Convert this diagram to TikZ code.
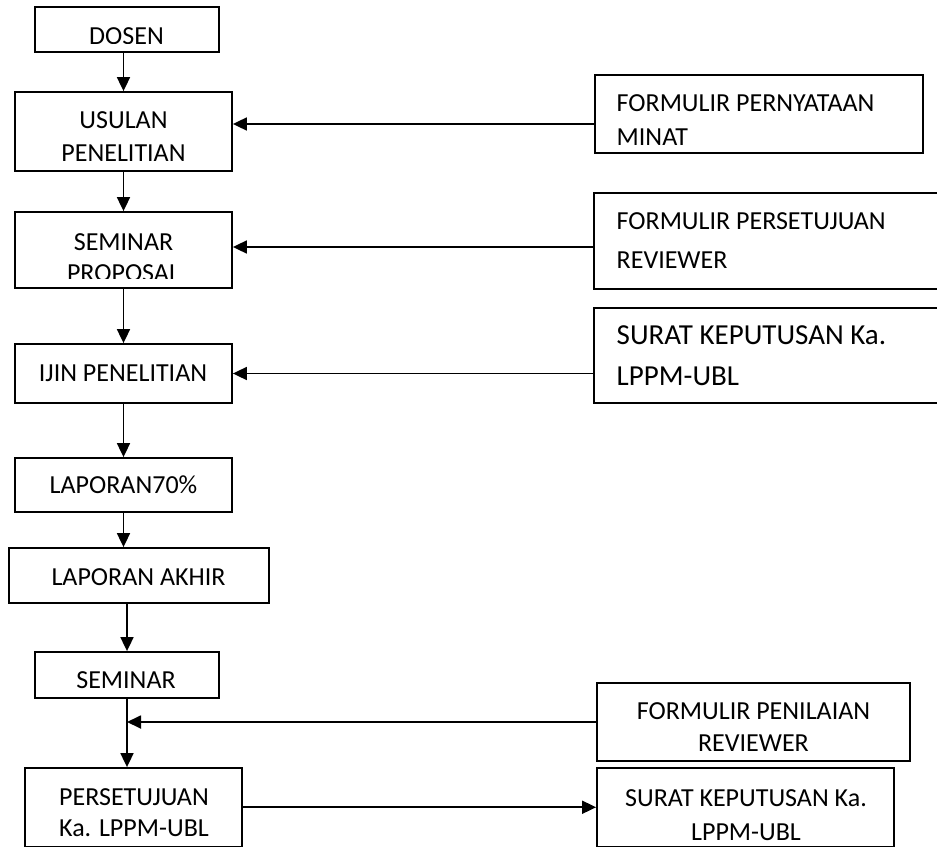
\documentclass[tikz,border=0pt]{standalone}
\usepackage{fontspec}
\setmainfont{Carlito}
\usetikzlibrary{arrows.meta}
\begin{document}
\begin{tikzpicture}[x=1pt,y=-1pt,
  box/.style={draw, line width=1.8pt, inner sep=0pt},
  txt/.style={inner sep=0pt, align=center, font=\fontsize{26}{31}\selectfont},
  lines/.style={font=\fontsize{26}{#1}\selectfont},
  oneline/.style={text height=16.5pt, text depth=0pt},
  arr/.style={line width=1.8pt, -{Triangle[length=14pt,width=13pt]}}]
\useasboundingbox (0,0) rectangle (937,848);

% main flow boxes
\node[box, minimum width=184pt, minimum height=45pt]   (dosen)    at (127,29.5) {};
\node[box, minimum width=217pt, minimum height=79pt]   (usulan)   at (123.5,131.5) {};
\node[box, minimum width=217pt, minimum height=76pt]   (semprop)  at (123.5,250) {};
\node[box, minimum width=217pt, minimum height=59pt]   (ijin)     at (123.5,373.5) {};
\node[box, minimum width=217pt, minimum height=54pt]   (lap70)    at (123.5,485) {};
\node[box, minimum width=260pt, minimum height=55pt]   (lapakhir) at (139,575.5) {};
\node[box, minimum width=184pt, minimum height=46pt]   (seminar)  at (127,675) {};
\node[box, minimum width=217pt, minimum height=78.5pt] (pers)     at (133.5,807.25) {};

% document boxes on the right
\node[box, minimum width=328pt, minimum height=78pt]   (fpm) at (759,114) {};
\node[box, minimum width=346pt, minimum height=96pt]   (fpr) at (767,241) {};
\node[box, minimum width=346pt, minimum height=95pt]   (sk1) at (767,355.5) {};
\node[box, minimum width=313pt, minimum height=78pt]   (fpn) at (753.5,722) {};
\node[box, minimum width=297pt, minimum height=78.5pt] (sk2) at (745.5,807.25) {};

% labels
\begin{scope}
  \clip (0,0) rectangle (937,43.5);
  \node[txt, oneline] (dosen-t) at (126.5,36.5) {DOSEN};
\end{scope}
\node[txt, lines=33.5] (usulan-t) at (123.5,136.75) {USULAN\\PENELITIAN};
\begin{scope}
  \clip (0,200) rectangle (937,278.5);
  \node[txt, lines=31.5] (semprop-t) at (123.5,257.75) {SEMINAR\\PROPOSAL};
\end{scope}
\node[txt, oneline] (ijin-t)     at (123,373)     {IJIN PENELITIAN};
\node[txt, oneline] (lap70-t)    at (123.5,485.5) {LAPORAN70\%};
\node[txt, oneline] (lapakhir-t) at (138.5,577)   {LAPORAN AKHIR};
\node[txt, oneline] (seminar-t)  at (126,680.5)   {SEMINAR};
\node[txt, lines=31] (pers-t)    at (134,813)     {PERSETUJUAN\\Ka. LPPM-UBL};

\node[txt, lines=34, align=left, anchor=west]   (fpm-t) at (616.5,120.5)  {FORMULIR PERNYATAAN\\MINAT};
\node[txt, lines=38.5, align=left, anchor=west] (fpr-t) at (616.5,240.75) {FORMULIR PERSETUJUAN\\REVIEWER};
\node[txt, font=\fontsize{29}{41}\selectfont, align=left, anchor=west] (sk1-t) at (616.5,355.5) {SURAT KEPUTUSAN Ka.\\LPPM-UBL};
\node[txt, lines=32]   (fpn-t) at (753.5,727.5) {FORMULIR PENILAIAN\\REVIEWER};
\node[txt, lines=33.4] (sk2-t) at (746,815)     {SURAT KEPUTUSAN Ka.\\LPPM-UBL};

% row levels of the incoming document arrows
\coordinate (r1) at (0,124);
\coordinate (r2) at (0,247);

% vertical flow
\draw[arr] (usulan.north |- dosen.south) -- (usulan.north);
\draw[arr] (usulan.south) -- (semprop.north);
\draw[arr] (semprop.south) -- (ijin.north);
\draw[arr] (ijin.south) -- (lap70.north);
\draw[arr] (lap70.south) -- (lap70.south |- lapakhir.north);
\draw[arr] (seminar.north |- lapakhir.south) -- (seminar.north);
\draw[arr] (seminar.south) -- (seminar.south |- pers.north);

% documents feeding the flow
\coordinate (j1) at (seminar.south |- fpn.west);
\draw[arr] (fpm.west |- r1) -- (usulan.east |- r1);
\draw[arr] (fpr.west |- r2) -- (semprop.east |- r2);
\draw[arr] (sk1.west |- ijin.east) -- (ijin.east);
\draw[arr] (fpn.west) -- (j1);
\draw[arr] (pers.east) -- (sk2.west);
\end{tikzpicture}
\end{document}
